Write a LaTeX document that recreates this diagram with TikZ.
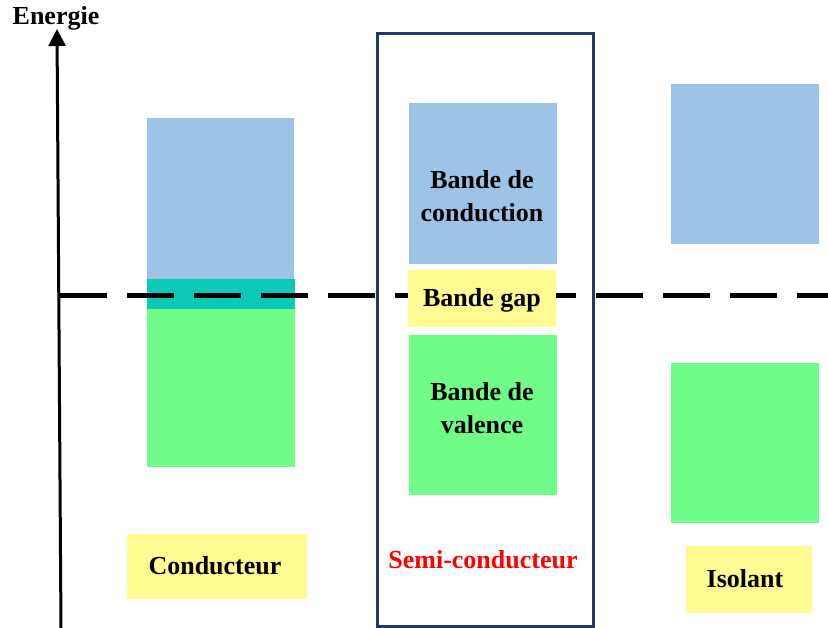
\documentclass[tikz,border=0pt]{standalone}
\usepackage{fontspec}
\setmainfont{Liberation Serif}
\usetikzlibrary{arrows.meta}
\definecolor{bandblue}{HTML}{9DC3E6}
\definecolor{bandteal}{HTML}{0CC8B6}
\definecolor{bandgreen}{HTML}{70FC88}
\definecolor{bandyellow}{HTML}{FFFA92}
\definecolor{boxnavy}{HTML}{22396A}
\tikzset{
  band/.style={inner sep=0pt, outer sep=0pt, draw=none},
  lbl/.style={font=\fontsize{26}{33}\selectfont\bfseries, align=center, inner sep=0pt},
}
\begin{document}
\begin{tikzpicture}[x=1pt,y=-1pt]
\useasboundingbox (0,0) rectangle (828,628);
% Conducteur
\node[band, fill=bandblue, minimum width=147pt, minimum height=161pt] (cb) at (220.5,198.5) {};
\node[band, fill=bandteal, minimum width=148pt, minimum height=30pt] (ct) at (221,294) {};
\node[band, fill=bandgreen, minimum width=148pt, minimum height=158pt] (cg) at (221,388) {};
\node[band, fill=bandyellow, minimum width=180pt, minimum height=65pt] (cl) at (217,566.5) {};
\node[lbl] (clt) at (215,566) {Conducteur};
% Semi-conducteur
\node[band, fill=bandblue, minimum width=148pt, minimum height=161pt] (sb) at (483,183.5) {};
\node[lbl] (sbt) at (482,196) {Bande de\\conduction};
\node[band, fill=bandgreen, minimum width=148pt, minimum height=160pt] (sg) at (483,415) {};
\node[lbl] (sgt) at (482,408) {Bande de\\valence};
% Isolant
\node[band, fill=bandblue, minimum width=148pt, minimum height=160pt] (ib) at (745,164) {};
\node[band, fill=bandgreen, minimum width=148pt, minimum height=160pt] (ig) at (745,443) {};
\node[band, fill=bandyellow, minimum width=126pt, minimum height=67pt] (il) at (749,579.5) {};
\node[lbl] (ilt) at (745,579) {Isolant};
% Fermi level dashed line
\coordinate (dl) at (60,296);
\coordinate (dr) at (828,296);
\draw[line width=5pt, dash pattern=on 47pt off 20pt] (dl) -- (dr);
% gap box on top
\node[band, fill=bandyellow, minimum width=148pt, minimum height=57pt] (sy) at (482,298.5) {};
\node[lbl] (syt) at (482,300) {Bande gap};
% Semi-conductor frame
\node[draw=boxnavy, line width=3pt, minimum width=216pt, minimum height=593pt, inner sep=0pt] (sbox) at (485.5,330) {};
\node[lbl, text=red] (slt) at (483,560) {Semi-conducteur};
% Energy axis
\coordinate (ab) at (61,630);
\coordinate (at) at (57,29);
\draw[line width=3pt, -{Triangle[length=17pt,width=17pt]}] (ab) -- (at);
\node[lbl] (en) at (56,18) {Energie};
\end{tikzpicture}
\end{document}
